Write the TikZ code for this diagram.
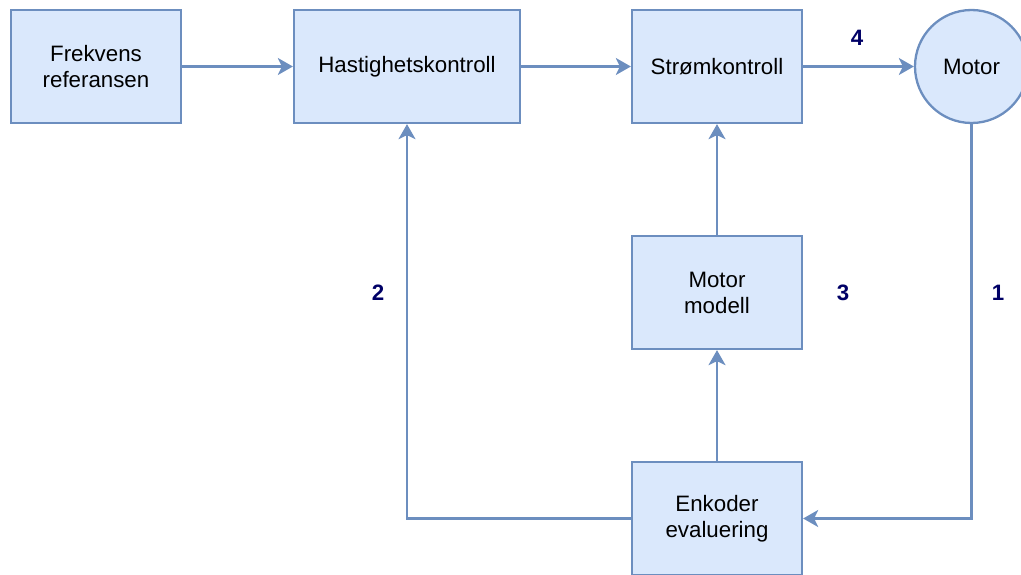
\documentclass[tikz,border=0pt]{standalone}
\usepackage{fontspec}
\setmainfont{Liberation Sans}
\usetikzlibrary{arrows.meta}
\definecolor{boxfill}{HTML}{DAE8FC}
\definecolor{boxline}{HTML}{6C8EBF}
\definecolor{labelnavy}{HTML}{000066}
\begin{document}
\begin{tikzpicture}[x=1pt,y=-1pt,
  block/.style={draw=boxline, fill=boxfill, line width=2.3pt, minimum width=170pt,
    minimum height=113pt, inner sep=0pt, align=center,
    font=\fontsize{22.3}{26}\selectfont},
  wideblock/.style={block, minimum width=226pt},
  roundblock/.style={block, circle, minimum size=113pt},
  flow/.style={draw=boxline, line width=2.3pt,
    -{Stealth[length=15pt,width=17pt,inset=4pt]}},
  tag/.style={text=labelnavy, font=\fontsize{22.3}{26}\selectfont\bfseries}]
  \clip (0,0) rectangle (1021,575);
  \useasboundingbox (0,0) rectangle (1021,575);

  % blocks of the control chain
  \node[block] (fr) at (96,66.5) {Frekvens\\referansen};
  \node[wideblock] (hk) at (407,66.5) {Hastighetskontroll};
  \node[block] (sk) at (717,66.5) {Strømkontroll};
  \node[roundblock] (motor) at (971.5,66.5) {Motor};
  \node[block] (mm) at (717,292.5) {Motor\\modell};
  \node[block] (enc) at (717,518.5) {Enkoder\\evaluering};

  % forward path
  \draw[flow] (fr) -- (hk);
  \draw[flow] (hk) -- (sk);
  \draw[flow] (sk) -- (motor);

  % feedback paths
  \draw[flow] (motor.south) |- (enc.east);
  \draw[flow] (enc.west) -| (hk.south);
  \draw[flow] (enc) -- (mm);
  \draw[flow] (mm) -- (sk);

  % loop numbers
  \node[tag] (n4) at (857,38) {4};
  \node[tag] (n2) at (378,293) {2};
  \node[tag] (n3) at (843,293) {3};
  \node[tag] (n1) at (998,293) {1};
\end{tikzpicture}
\end{document}
